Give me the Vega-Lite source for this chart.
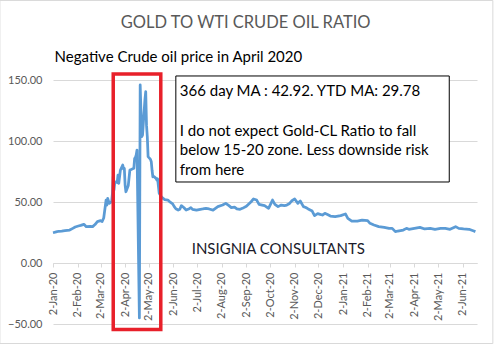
{
  "$schema": "https://vega.github.io/schema/vega-lite/v6.json",
  "autosize": "none",
  "width": 424,
  "height": 244,
  "padding": {"left": 53, "top": 80, "right": 17, "bottom": 20},
  "background": "white",
  "config": {"view": {"stroke": null}, "font": "Lato"},
  "datasets": {
    "ratio": [
      {"date": "2020-01-02", "ratio": 24.8}, {"date": "2020-01-06", "ratio": 25.5}, {"date": "2020-01-09", "ratio": 26.0},
      {"date": "2020-01-13", "ratio": 26.2}, {"date": "2020-01-17", "ratio": 26.5}, {"date": "2020-01-23", "ratio": 27.0},
      {"date": "2020-01-27", "ratio": 28.4}, {"date": "2020-01-30", "ratio": 29.5}, {"date": "2020-02-03", "ratio": 30.3},
      {"date": "2020-02-06", "ratio": 30.8}, {"date": "2020-02-10", "ratio": 31.7}, {"date": "2020-02-13", "ratio": 29.8},
      {"date": "2020-02-18", "ratio": 30.0}, {"date": "2020-02-21", "ratio": 29.8}, {"date": "2020-02-24", "ratio": 31.5},
      {"date": "2020-02-27", "ratio": 33.9}, {"date": "2020-03-02", "ratio": 34.7}, {"date": "2020-03-04", "ratio": 34.0},
      {"date": "2020-03-06", "ratio": 36.9}, {"date": "2020-03-09", "ratio": 51.6}, {"date": "2020-03-10", "ratio": 47.5},
      {"date": "2020-03-11", "ratio": 53.0}, {"date": "2020-03-13", "ratio": 48.9}, {"date": "2020-03-16", "ratio": 50.3},
      {"date": "2020-03-17", "ratio": 57.0}, {"date": "2020-03-18", "ratio": 70.8}, {"date": "2020-03-19", "ratio": 60.0},
      {"date": "2020-03-20", "ratio": 66.6}, {"date": "2020-03-23", "ratio": 66.0}, {"date": "2020-03-24", "ratio": 72.0},
      {"date": "2020-03-25", "ratio": 65.3}, {"date": "2020-03-27", "ratio": 76.0}, {"date": "2020-03-30", "ratio": 80.3},
      {"date": "2020-03-31", "ratio": 77.0}, {"date": "2020-04-01", "ratio": 77.6}, {"date": "2020-04-02", "ratio": 63.9},
      {"date": "2020-04-03", "ratio": 58.4}, {"date": "2020-04-06", "ratio": 63.6}, {"date": "2020-04-07", "ratio": 70.0},
      {"date": "2020-04-08", "ratio": 76.2}, {"date": "2020-04-09", "ratio": 76.5}, {"date": "2020-04-13", "ratio": 77.6},
      {"date": "2020-04-14", "ratio": 85.8}, {"date": "2020-04-15", "ratio": 86.5}, {"date": "2020-04-16", "ratio": 88.5},
      {"date": "2020-04-17", "ratio": 92.6}, {"date": "2020-04-20", "ratio": -45.0}, {"date": "2020-04-21", "ratio": 146.0},
      {"date": "2020-04-22", "ratio": 124.0}, {"date": "2020-04-23", "ratio": 103.5}, {"date": "2020-04-24", "ratio": 105.0},
      {"date": "2020-04-27", "ratio": 134.0}, {"date": "2020-04-28", "ratio": 140.4}, {"date": "2020-04-29", "ratio": 113.0},
      {"date": "2020-04-30", "ratio": 103.5}, {"date": "2020-05-01", "ratio": 87.2}, {"date": "2020-05-04", "ratio": 85.0},
      {"date": "2020-05-05", "ratio": 83.0}, {"date": "2020-05-06", "ratio": 76.0}, {"date": "2020-05-07", "ratio": 70.7},
      {"date": "2020-05-08", "ratio": 71.0}, {"date": "2020-05-11", "ratio": 69.4}, {"date": "2020-05-12", "ratio": 68.0},
      {"date": "2020-05-13", "ratio": 69.0}, {"date": "2020-05-14", "ratio": 63.0}, {"date": "2020-05-15", "ratio": 57.1},
      {"date": "2020-05-18", "ratio": 54.0}, {"date": "2020-05-20", "ratio": 53.0}, {"date": "2020-05-22", "ratio": 52.0},
      {"date": "2020-05-26", "ratio": 51.6}, {"date": "2020-05-28", "ratio": 50.3}, {"date": "2020-06-01", "ratio": 48.5},
      {"date": "2020-06-03", "ratio": 46.2}, {"date": "2020-06-05", "ratio": 44.5}, {"date": "2020-06-08", "ratio": 43.4},
      {"date": "2020-06-10", "ratio": 44.0}, {"date": "2020-06-12", "ratio": 47.0}, {"date": "2020-06-15", "ratio": 45.5},
      {"date": "2020-06-18", "ratio": 43.4}, {"date": "2020-06-22", "ratio": 44.5}, {"date": "2020-06-24", "ratio": 45.4},
      {"date": "2020-06-26", "ratio": 44.0}, {"date": "2020-07-01", "ratio": 43.4}, {"date": "2020-07-06", "ratio": 44.0},
      {"date": "2020-07-09", "ratio": 44.3}, {"date": "2020-07-13", "ratio": 44.8}, {"date": "2020-07-17", "ratio": 44.3},
      {"date": "2020-07-22", "ratio": 43.4}, {"date": "2020-07-28", "ratio": 46.2}, {"date": "2020-08-03", "ratio": 47.5},
      {"date": "2020-08-07", "ratio": 48.9}, {"date": "2020-08-11", "ratio": 47.0}, {"date": "2020-08-14", "ratio": 45.4},
      {"date": "2020-08-18", "ratio": 45.8}, {"date": "2020-08-21", "ratio": 44.3}, {"date": "2020-08-25", "ratio": 44.0},
      {"date": "2020-08-28", "ratio": 44.8}, {"date": "2020-09-02", "ratio": 46.5}, {"date": "2020-09-08", "ratio": 50.2},
      {"date": "2020-09-11", "ratio": 52.5}, {"date": "2020-09-15", "ratio": 51.6}, {"date": "2020-09-18", "ratio": 48.1},
      {"date": "2020-09-22", "ratio": 47.5}, {"date": "2020-09-25", "ratio": 47.0}, {"date": "2020-09-30", "ratio": 44.8},
      {"date": "2020-10-05", "ratio": 51.6}, {"date": "2020-10-08", "ratio": 48.1}, {"date": "2020-10-12", "ratio": 46.2},
      {"date": "2020-10-16", "ratio": 47.5}, {"date": "2020-10-20", "ratio": 47.0}, {"date": "2020-10-23", "ratio": 47.5},
      {"date": "2020-10-26", "ratio": 48.5}, {"date": "2020-10-29", "ratio": 50.8}, {"date": "2020-11-02", "ratio": 52.5},
      {"date": "2020-11-06", "ratio": 48.9}, {"date": "2020-11-09", "ratio": 50.8}, {"date": "2020-11-13", "ratio": 46.2},
      {"date": "2020-11-16", "ratio": 45.5}, {"date": "2020-11-19", "ratio": 44.3}, {"date": "2020-11-24", "ratio": 42.6},
      {"date": "2020-11-27", "ratio": 38.8}, {"date": "2020-12-01", "ratio": 40.5}, {"date": "2020-12-04", "ratio": 39.9},
      {"date": "2020-12-07", "ratio": 39.3}, {"date": "2020-12-10", "ratio": 40.7}, {"date": "2020-12-14", "ratio": 39.5},
      {"date": "2020-12-17", "ratio": 38.5}, {"date": "2020-12-23", "ratio": 38.0}, {"date": "2020-12-30", "ratio": 38.8},
      {"date": "2021-01-05", "ratio": 40.2}, {"date": "2021-01-08", "ratio": 36.6}, {"date": "2021-01-13", "ratio": 34.4},
      {"date": "2021-01-20", "ratio": 34.4}, {"date": "2021-01-26", "ratio": 35.2}, {"date": "2021-02-02", "ratio": 34.7},
      {"date": "2021-02-05", "ratio": 32.5}, {"date": "2021-02-10", "ratio": 31.1}, {"date": "2021-02-16", "ratio": 29.8},
      {"date": "2021-02-23", "ratio": 29.2}, {"date": "2021-03-01", "ratio": 28.4}, {"date": "2021-03-05", "ratio": 28.4},
      {"date": "2021-03-09", "ratio": 25.7}, {"date": "2021-03-12", "ratio": 26.2}, {"date": "2021-03-19", "ratio": 27.0},
      {"date": "2021-03-23", "ratio": 28.4}, {"date": "2021-03-26", "ratio": 27.6}, {"date": "2021-04-02", "ratio": 28.4},
      {"date": "2021-04-09", "ratio": 29.2}, {"date": "2021-04-15", "ratio": 27.9}, {"date": "2021-04-22", "ratio": 28.4},
      {"date": "2021-04-28", "ratio": 27.6}, {"date": "2021-05-05", "ratio": 28.4}, {"date": "2021-05-11", "ratio": 28.4},
      {"date": "2021-05-17", "ratio": 27.6}, {"date": "2021-05-24", "ratio": 29.8}, {"date": "2021-05-28", "ratio": 28.4},
      {"date": "2021-06-03", "ratio": 27.9}, {"date": "2021-06-10", "ratio": 27.6}, {"date": "2021-06-16", "ratio": 26.2},
      {"date": "2021-06-18", "ratio": 25.7}
    ]
  },
  "data": {"name": "ratio"},
  "encoding": {
    "x": {
      "field": "date", "type": "temporal",
      "scale": {"type": "utc", "domain": ["2020-01-02", "2021-06-20"]},
      "axis": {
        "title": null, "offset": -61, "grid": false,
        "values": ["2020-01-02", "2020-02-02", "2020-03-02", "2020-04-02", "2020-05-02", "2020-06-02", "2020-07-02", "2020-08-02", "2020-09-02", "2020-10-02", "2020-11-02", "2020-12-02", "2021-01-02", "2021-02-02", "2021-03-02", "2021-04-02", "2021-05-02", "2021-06-02"],
        "format": "%-d-%b-%y", "labelAngle": -90, "labelFont": "Lato", "labelFontSize": 11, "labelColor": "#595959",
        "domainColor": "#d9d9d9", "tickColor": "#d9d9d9", "tickSize": 4, "labelPadding": 5, "labelOverlap": false, "labelBound": false, "labelFlush": false
      }
    },
    "y": {
      "field": "ratio", "type": "quantitative",
      "scale": {"domain": [-50, 150], "nice": false, "zero": false},
      "axis": {
        "title": null, "values": [-50, 0, 50, 100, 150], "format": ".2f", "domain": false, "ticks": false,
        "gridColor": "#d9d9d9", "labelFont": "Lato", "labelFontSize": 11, "labelColor": "#595959", "labelPadding": 11
      }
    }
  },
  "layer": [
    {"mark": {"type": "line", "color": "#5b9bd5", "strokeWidth": 2.75, "strokeJoin": "round", "clip": false}},
    {
      "transform": [{"window": [{"op": "row_number", "as": "rn"}]}, {"filter": "datum.rn == 1"}],
      "mark": {"type": "rect", "fill": null, "fillOpacity": 0, "stroke": "#d9d9d9", "strokeWidth": 1},
      "encoding": {
        "x": {"datum": {"year": 2019, "month": "Oct", "date": 27, "utc": true}, "type": "temporal"},
        "x2": {"datum": {"year": 2021, "month": "Jul", "date": 10, "utc": true}},
        "y": {"datum": 215.2, "type": "quantitative"},
        "y2": {"datum": -66}
      }
    },
    {
      "transform": [{"window": [{"op": "row_number", "as": "rn"}]}, {"filter": "datum.rn == 1"}],
      "mark": {"type": "rect", "fill": null, "fillOpacity": 0, "stroke": "#e8202a", "strokeWidth": 3.5},
      "encoding": {
        "x": {"datum": {"year": 2020, "month": "Mar", "date": 18, "utc": true}, "type": "temporal"},
        "x2": {"datum": {"year": 2020, "month": "May", "date": 17, "utc": true}},
        "y": {"datum": 155, "type": "quantitative"},
        "y2": {"datum": -54.5}
      }
    },
    {
      "transform": [{"window": [{"op": "row_number", "as": "rn"}]}, {"filter": "datum.rn == 1"}],
      "mark": {"type": "rect", "fill": "white", "stroke": "black", "strokeWidth": 1},
      "encoding": {
        "x": {"datum": {"year": 2020, "month": "Jun", "date": 5, "utc": true}, "type": "temporal"},
        "x2": {"datum": {"year": 2021, "month": "May", "date": 16, "utc": true}},
        "y": {"datum": 153.3, "type": "quantitative"},
        "y2": {"datum": 66.4}
      }
    },
    {
      "transform": [{"window": [{"op": "row_number", "as": "rn"}]}, {"filter": "datum.rn == 1"}],
      "mark": {"type": "text", "align": "left", "baseline": "alphabetic", "font": "Lato", "fontSize": 15, "fontWeight": "normal", "fill": "black", "text": "366 day MA : 42.92. YTD MA: 29.78"},
      "encoding": {
        "x": {"datum": {"year": 2020, "month": "Jun", "date": 10, "utc": true}, "type": "temporal"},
        "y": {"datum": 137, "type": "quantitative"}
      }
    },
    {
      "transform": [{"window": [{"op": "row_number", "as": "rn"}]}, {"filter": "datum.rn == 1"}],
      "mark": {"type": "text", "align": "left", "baseline": "alphabetic", "font": "Lato", "fontSize": 15, "fontWeight": "normal", "fill": "black", "lineHeight": 19.5,
        "text": ["I do not expect Gold-CL Ratio to fall", "below 15-20 zone. Less downside risk", "from here"]},
      "encoding": {
        "x": {"datum": {"year": 2020, "month": "Jun", "date": 10, "utc": true}, "type": "temporal"},
        "y": {"datum": 104.1, "type": "quantitative"}
      }
    },
    {
      "transform": [{"window": [{"op": "row_number", "as": "rn"}]}, {"filter": "datum.rn == 1"}],
      "mark": {"type": "text", "align": "left", "baseline": "alphabetic", "font": "Lato", "fontSize": 15, "fontWeight": "normal", "fill": "black", "text": "Negative Crude oil price in April 2020"},
      "encoding": {
        "x": {"datum": {"year": 2020, "month": "Jan", "date": 4, "utc": true}, "type": "temporal"},
        "y": {"datum": 164.75, "type": "quantitative"}
      }
    },
    {
      "transform": [{"window": [{"op": "row_number", "as": "rn"}]}, {"filter": "datum.rn == 1"}],
      "mark": {"type": "text", "align": "left", "baseline": "alphabetic", "font": "Lato", "fontSize": 15, "fontWeight": "normal", "fill": "#1a1a2a", "text": "INSIGNIA CONSULTANTS"},
      "encoding": {
        "x": {"datum": {"year": 2020, "month": "Jun", "date": 25, "utc": true}, "type": "temporal"},
        "y": {"datum": 7.4, "type": "quantitative"}
      }
    },
    {
      "transform": [{"window": [{"op": "row_number", "as": "rn"}]}, {"filter": "datum.rn == 1"}],
      "mark": {"type": "text", "align": "center", "baseline": "alphabetic", "font": "Lato", "fontSize": 16.5, "fontWeight": "normal", "fill": "#595959", "text": "GOLD TO WTI CRUDE OIL RATIO"},
      "encoding": {
        "x": {"datum": {"year": 2020, "month": "Sep", "date": 1, "utc": true}, "type": "temporal"},
        "y": {"datum": 192.6, "type": "quantitative"}
      }
    }
  ]
}
